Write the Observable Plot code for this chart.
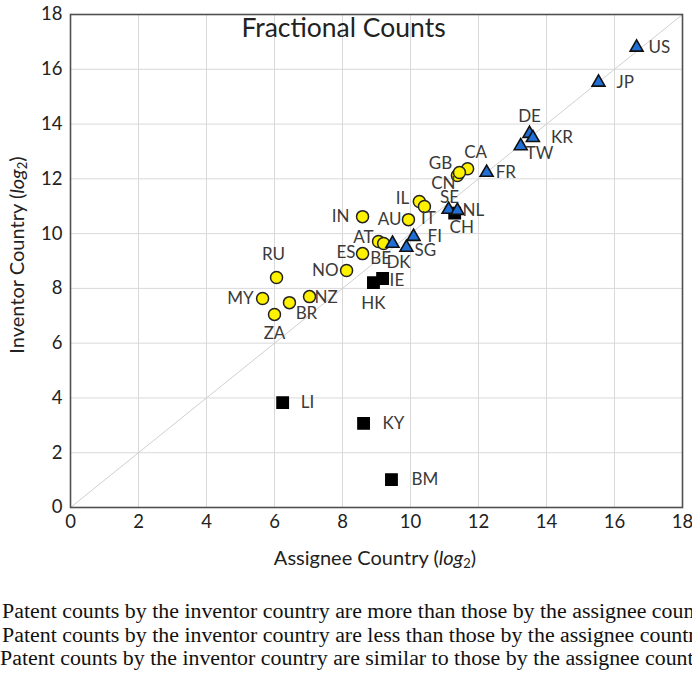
<!DOCTYPE html>
<html>
<head>
<meta charset="utf-8">
<script src="https://cdn.jsdelivr.net/npm/d3@7"></script>
<script src="https://cdn.jsdelivr.net/npm/@observablehq/plot@0.6"></script>
<style>
  html, body { margin: 0; padding: 0; background: #fff; }
  #wrap { position: relative; width: 692px; height: 677px; overflow: hidden; background: #fff; }
  .axtitle { position: absolute; font-family: Lato, "Open Sans", sans-serif; font-size: 20px; color: #222; white-space: nowrap; }
  .axtitle sub { font-size: 13px; vertical-align: -3px; }
  #xt { left: 0; width: 750px; top: 545px; text-align: center; }
  #yt { left: 17px; top: 255px; transform: translate(-50%, -50%) rotate(-90deg); }
  #legend { position: absolute; left: 0; top: 599px; width: 692px; overflow: hidden;
            font-family: "Liberation Serif", "Times New Roman", serif; font-size: 21.9px; line-height: 23.5px; color: #111; white-space: nowrap; }
  #legend div { white-space: nowrap; }
</style>
</head>
<body>
<div id="wrap">
  <div id="chart"></div>
  <div class="axtitle" id="xt">Assignee Country (<i>log</i><sub>2</sub>)</div>
  <div class="axtitle" id="yt">Inventor Country (<i>log</i><sub>2</sub>)</div>
  <div id="legend">
    <div style="padding-left:2px">Patent counts by the inventor country are more than those by the assignee country</div>
    <div style="padding-left:2px">Patent counts by the inventor country are less than those by the assignee country</div>
    <div style="padding-left:0px">Patent counts by the inventor country are similar to those by the assignee country</div>
  </div>
</div>
<script>
// ---- data ----
const codes    = ["US","JP","DE","KR","TW","FR","CA","CN","GB","SE","NL","CH","IL","IT","AU","FI","SG","DK","AT","BE","ES","IN","NO","IE","HK","RU","MY","BR","NZ","ZA","LI","KY","BM"];
const assignee = [16.65,15.53,13.50,13.60,13.24,12.24,11.68,11.38,11.44,11.12,11.38,11.30,10.26,10.41, 9.94,10.09, 9.88, 9.47, 9.06, 9.21, 8.59, 8.59, 8.12, 9.18, 8.91, 6.06, 5.65, 6.44, 7.03, 6.00, 6.24, 8.62, 9.44];
const inventor = [16.80,15.52,13.65,13.50,13.20,12.23,12.37,12.12,12.23,10.88,10.84,10.75,11.17,10.99,10.51, 9.89, 9.49, 9.64, 9.71, 9.64, 9.27,10.62, 8.65, 8.36, 8.21, 8.40, 7.63, 7.48, 7.70, 7.05, 3.83, 3.07, 1.02];
const group    = ["similar","similar","similar","similar","similar","similar","more","more","more","similar","similar","less","more","more","more","similar","similar","similar","more","more","more","more","more","less","less","more","more","more","more","more","less","less","less"];
const tickValues = [0, 2, 4, 6, 8, 10, 12, 14, 16, 18];
const diagonal = [0, 18];
const chartTitle = "Fractional Counts";

// label placement (presentation): [dx, dy, anchor]
const labelPlacement = {
  US:[12,0,"start"], JP:[18,0,"start"], DE:[0,-17,"middle"], KR:[18,0,"start"], TW:[5,8,"start"],
  FR:[9,0,"start"], CA:[8,-16,"middle"], GB:[-19,-9,"middle"], CN:[-14,8,"middle"], SE:[1,-12,"middle"],
  NL:[5,0,"start"], CH:[7,14,"middle"], IL:[-10,-3,"end"], IT:[4,12,"middle"], AU:[-7,0,"end"],
  FI:[14,0,"start"], SG:[8,3,"start"], DK:[6,19,"middle"], AT:[-5,-4,"end"], BE:[-3,15,"middle"],
  ES:[-7,-1,"end"], IN:[-13,0,"end"], NO:[-8,0,"end"], IE:[7,2,"start"], HK:[0,21,"middle"],
  RU:[-3,-23,"middle"], MY:[-9,0,"end"], BR:[17,11,"middle"], NZ:[5,1,"start"], ZA:[0,19,"middle"],
  LI:[18,0,"start"], KY:[19,0,"start"], BM:[20,0,"start"]
};

const rows = codes.map((c, i) => ({code: c, x: assignee[i], y: inventor[i], g: group[i]}));
const sel = g => rows.filter(r => r.g === g);

const labelMarks = rows.map(r => {
  const [dx, dy, anchor] = labelPlacement[r.code];
  return Plot.text([r], {x: "x", y: "y", text: "code", dx, dy, textAnchor: anchor,
    fill: "#3a3a3a", fontSize: 17, lineAnchor: "middle"});
});

const chart = Plot.plot({
  width: 692, height: 575,
  marginLeft: 70, marginRight: 10, marginTop: 14, marginBottom: 68,
  x: {domain: [0, 18], label: null},
  y: {domain: [0, 18], label: null},
  style: {fontFamily: "Lato, 'Open Sans', sans-serif", fontSize: "18px", color: "#222", background: "#fff"},
  marks: [
    Plot.gridX(tickValues, {stroke: "#d9d9d9", strokeOpacity: 1}),
    Plot.gridY(tickValues, {stroke: "#d9d9d9", strokeOpacity: 1}),
    Plot.line(diagonal, {x: d => d, y: d => d, stroke: "#d0d0d0", strokeWidth: 1}),
    Plot.frame({stroke: "#505050", strokeWidth: 1.6}),
    Plot.axisX(tickValues, {tickSize: 0, tickPadding: 7, label: null, fontSize: 18.5, fill: "#222"}),
    Plot.axisY(tickValues, {tickSize: 0, tickPadding: 8, label: null, fontSize: 18.5, fill: "#222"}),
    Plot.text([chartTitle], {frameAnchor: "top", dx: -33, dy: 14, lineAnchor: "middle", fontSize: 26.5, fill: "#222"}),
    Plot.dot(sel("less"), {x: "x", y: "y", symbol: "square", r: 6.4, fill: "#000", stroke: "#000"}),
    Plot.dot(sel("more"), {x: "x", y: "y", symbol: "circle", r: 6, fill: "#fff200", stroke: "#222", strokeWidth: 1.5}),
    Plot.dot(sel("similar"), {x: "x", y: "y", symbol: "triangle", r: 4.8, fill: "#1f6fd6", stroke: "#111", strokeWidth: 1.6}),
    ...labelMarks
  ]
});
document.getElementById("chart").appendChild(chart);
</script>
</body>
</html>
